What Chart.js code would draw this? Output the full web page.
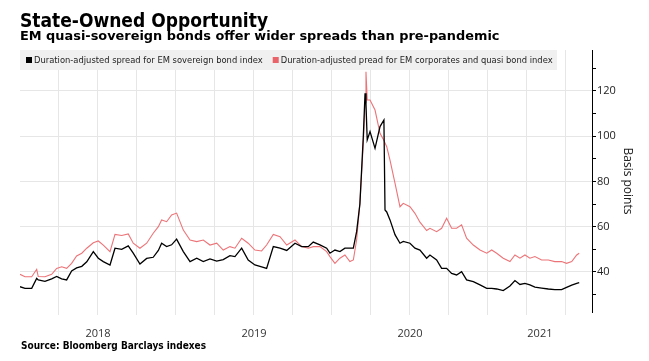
<!DOCTYPE html>
<html>
<head>
<meta charset="utf-8">
<script src="https://cdn.jsdelivr.net/npm/chart.js@4.4.1/dist/chart.umd.min.js"></script>
<style>
  body { margin: 0; background: #fff; }
  #wrap { position: relative; width: 649px; height: 361px; overflow: hidden; }
  #chart { position: absolute; left: 0; top: 0; }
  .title { position: absolute; left: 20px; top: 11px; font: bold 19px "DejaVu Sans Condensed"; line-height: 1; color: #000; white-space: nowrap; }
  .subtitle { position: absolute; left: 20px; top: 30px; font: bold 12.9px "DejaVu Sans"; line-height: 1; color: #000; white-space: nowrap; }
  .source { position: absolute; left: 21px; top: 341px; font: bold 10px "DejaVu Sans Condensed"; line-height: 1; color: #000; white-space: nowrap; }
</style>
</head>
<body>
<div id="wrap">
  <canvas id="chart" width="649" height="361"></canvas>
  <div class="title">State-Owned Opportunity</div>
  <div class="subtitle">EM quasi-sovereign bonds offer wider spreads than pre-pandemic</div>
  <div class="source">Source: Bloomberg Barclays indexes</div>
</div>
<script>
// dates as decimal years
var dates = [
  2018.000, 2018.032, 2018.075, 2018.107, 2018.117, 2018.160, 2018.203, 2018.235, 2018.267, 2018.299,
  2018.331, 2018.363, 2018.396, 2018.428, 2018.470, 2018.502, 2018.534, 2018.577, 2018.609, 2018.652,
  2018.694, 2018.726, 2018.769, 2018.812, 2018.854, 2018.887, 2018.908, 2018.940, 2018.972, 2019.004,
  2019.047, 2019.090, 2019.133, 2019.175, 2019.218, 2019.261, 2019.303, 2019.346, 2019.378, 2019.421,
  2019.463, 2019.506, 2019.549, 2019.581, 2019.624, 2019.667, 2019.710, 2019.763, 2019.806, 2019.848,
  2019.880, 2019.923, 2019.966, 2019.987, 2020.019, 2020.051, 2020.083, 2020.115, 2020.137, 2020.158,
  2020.179, 2020.201, 2020.212, 2020.218, 2020.226, 2020.244, 2020.276, 2020.308, 2020.333, 2020.340,
  2020.351, 2020.372, 2020.404, 2020.436, 2020.457, 2020.500, 2020.532, 2020.564, 2020.607, 2020.628,
  2020.671, 2020.703, 2020.735, 2020.767, 2020.799, 2020.831, 2020.863, 2020.906, 2020.949, 2020.992,
  2021.024, 2021.056, 2021.098, 2021.141, 2021.173, 2021.205, 2021.237, 2021.269, 2021.301, 2021.344,
  2021.387, 2021.429, 2021.472, 2021.504, 2021.537, 2021.569, 2021.585
];

// EM sovereign bond index spread (bp)
var sovereignSpread = [
  33.5, 32.8, 32.8, 37.2, 36.5, 35.9, 37.0, 38.0, 37.0, 36.5,
  40.5, 41.8, 42.5, 44.5, 49.0, 46.1, 44.6, 43.1, 50.5, 50.0,
  51.5, 48.3, 43.5, 46.0, 46.5, 49.5, 52.7, 51.2, 52.0, 54.5,
  49.0, 44.6, 46.1, 44.6, 45.8, 44.8, 45.5, 47.2, 46.8, 50.5,
  45.3, 43.1, 42.3, 41.6, 51.2, 50.5, 49.5, 52.7, 51.2, 51.2,
  53.2, 52.0, 50.5, 48.3, 49.7, 49.0, 50.5, 50.5, 50.5, 57.8,
  70.0, 100.0, 118.9, 114.0, 98.3, 102.0, 94.6, 104.2, 107.1, 67.4,
  66.5, 63.0, 56.5, 52.7, 53.5, 52.7, 50.5, 49.7, 46.1, 47.5,
  45.3, 41.6, 41.6, 39.4, 38.7, 40.1, 36.5, 35.7, 34.3, 32.8,
  32.8, 32.5, 31.8, 33.8, 36.2, 34.5, 35.0, 34.3, 33.3, 32.9,
  32.5, 32.2, 32.2, 33.2, 34.2, 35.0, 35.3
];

// EM corporates and quasi bond index spread (bp)
var corporateSpread = [
  39.0, 37.9, 37.9, 41.2, 38.0, 37.9, 39.0, 41.6, 42.3, 41.6,
  43.8, 47.1, 48.3, 50.5, 52.9, 53.7, 51.9, 49.0, 56.6, 56.1,
  56.8, 52.7, 50.5, 52.7, 57.1, 60.0, 63.0, 62.2, 65.2, 66.0,
  58.5, 54.1, 53.4, 54.1, 51.9, 52.7, 49.7, 51.2, 50.5, 54.9,
  52.7, 49.7, 49.3, 51.9, 56.6, 55.6, 51.9, 54.1, 51.2, 50.5,
  51.2, 51.2, 49.0, 46.8, 43.8, 46.1, 47.5, 44.6, 45.3, 54.1,
  70.3, 96.8, 115.0, 128.4, 115.9, 115.9, 111.5, 101.2, 98.0, 97.0,
  95.3, 89.4, 79.2, 68.8, 70.3, 68.8, 65.9, 62.0, 58.3, 59.3,
  57.8, 59.3, 63.7, 59.3, 59.3, 60.8, 54.9, 51.9, 49.7, 48.3,
  49.7, 48.3, 46.1, 44.6, 47.5, 46.1, 47.5, 46.1, 46.8, 45.3,
  45.3, 44.6, 44.6, 43.8, 44.6, 47.5, 48.3
];

// year labels, centred on the visible part of each year
var yearLabels = ["2018", "2019", "2020", "2021"];
var yearLabelPos = [2018.5, 2019.5, 2020.5, 2021.333];

var xMin = 2018.0;
var xMax = 2021.667;

function toPoints(values) {
  return values.map(function (v, i) {
    return { x: dates[i], y: v };
  });
}

// grey legend band drawn inside the top of the plot
var legendBand = {
  id: "legendBand",
  beforeDatasetsDraw: function (chart) {
    var ctx = chart.ctx;
    var area = chart.chartArea;
    ctx.save();
    ctx.fillStyle = "#f0f0f0";
    ctx.fillRect(area.left, area.top, 537, 20);
    ctx.font = '9.3px "DejaVu Sans Condensed"';
    ctx.textBaseline = "middle";
    var x = area.left + 6;
    chart.data.datasets.forEach(function (ds) {
      ctx.fillStyle = ds.legendColor;
      ctx.fillRect(x, area.top + 7, 6, 6);
      ctx.fillStyle = "#222";
      ctx.fillText(ds.label, x + 8, area.top + 10.5);
      x += 8 + ctx.measureText(ds.label).width + 10;
    });
    ctx.restore();
  },
};

var ctx = document.getElementById("chart").getContext("2d");

new Chart(ctx, {
  type: "line",
  data: {
    datasets: [
      {
        label: "Duration-adjusted spread for EM sovereign bond index",
        data: toPoints(sovereignSpread),
        borderColor: "#000",
        legendColor: "#000",
        borderWidth: 1.3,
      },
      {
        label: "Duration-adjusted pread for EM corporates and quasi bond index",
        data: toPoints(corporateSpread),
        borderColor: "#ec7478",
        legendColor: "#e9646a",
        borderWidth: 1.1,
      },
    ],
  },
  options: {
    responsive: false,
    animation: false,
    devicePixelRatio: 1,
    layout: { padding: { left: 20, right: 0, top: 50, bottom: 0 } },
    elements: { point: { radius: 0 }, line: { tension: 0 } },
    plugins: {
      legend: { display: false },
      tooltip: { enabled: false },
    },
    scales: {
      x: {
        type: "linear",
        position: "bottom",
        weight: 0,
        min: xMin,
        max: xMax,
        border: { display: false },
        grid: {
          color: function (c) {
            return c.tick && c.tick.value === xMin ? "rgba(0,0,0,0)" : "#e6e6e6";
          },
          tickLength: 3,
        },
        ticks: { display: false, stepSize: 0.25, includeBounds: false },
        afterFit: function (axis) {
          axis.height = 3;
        },
      },
      xLabels: {
        type: "linear",
        position: "bottom",
        weight: 1,
        min: xMin,
        max: xMax,
        border: { display: false },
        grid: { display: false, drawTicks: false },
        afterBuildTicks: function (axis) {
          axis.ticks = yearLabelPos.map(function (v) {
            return { value: v };
          });
        },
        ticks: {
          autoSkip: false,
          maxRotation: 0,
          padding: 12,
          color: "#333",
          font: { family: "Open Sans", size: 11 },
          callback: function (value, index) {
            return yearLabels[index];
          },
        },
        afterFit: function (axis) {
          axis.height = 46;
        },
      },
      y: {
        position: "right",
        min: 22.34,
        max: 138,
        border: { display: true, color: "#000", width: 1 },
        grid: {
          color: function (c) {
            return c.tick && c.tick.value % 20 === 0 ? "#e6e6e6" : "rgba(0,0,0,0)";
          },
          tickColor: "#000",
          tickLength: 4,
        },
        ticks: {
          stepSize: 10,
          includeBounds: false,
          padding: 1,
          color: "#222",
          font: { family: "Open Sans", size: 11 },
          callback: function (value) {
            return value % 20 === 0 ? value : "";
          },
        },
        title: {
          display: true,
          text: "Basis points",
          color: "#222",
          font: { family: "Open Sans", size: 12 },
          padding: { top: 14, bottom: 0 },
        },
        afterFit: function (axis) {
          axis.width = 57;
        },
      },
    },
  },
  plugins: [legendBand],
});
</script>
</body>
</html>
